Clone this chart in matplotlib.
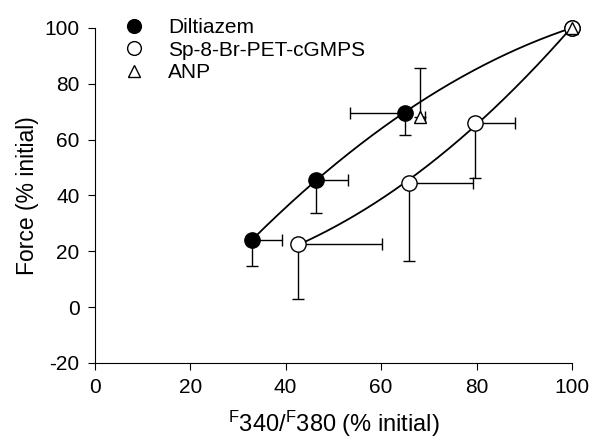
import numpy as np
import matplotlib.pyplot as plt

plt.rcParams['font.family'] = ['Liberation Sans', 'DejaVu Sans']
plt.rcParams['axes.unicode_minus'] = False
plt.rcParams['mathtext.fontset'] = 'custom'
plt.rcParams['mathtext.rm'] = 'Liberation Sans'

# Diltiazem
dil_x = [33.0, 46.3, 65.0, 100.0]
dil_y = [24.0, 45.6, 69.6, 100.0]
dil_xerr_lo = [0, 0, 11.5, 0]
dil_xerr_hi = [6.2, 6.7, 0, 0]
dil_yerr_lo = [9.2, 11.8, 7.9, 0]
dil_yerr_hi = [0, 0, 0, 0]

# Sp-8-Br-PET-cGMPS
sp_x = [42.6, 65.8, 79.7, 100.0]
sp_y = [22.5, 44.5, 66.0, 100.0]
sp_xerr_lo = [0, 0, 0, 0]
sp_xerr_hi = [17.6, 13.4, 8.3, 0]
sp_yerr_lo = [19.6, 27.9, 19.7, 0]
sp_yerr_hi = [0, 0, 0, 0]

# ANP
anp_x = [68.1, 100.0]
anp_y = [68.2, 100.0]
anp_xerr_lo = [0, 0]
anp_xerr_hi = [1.2, 0]
anp_yerr_lo = [0, 0]
anp_yerr_hi = [17.5, 0]

fig = plt.figure(figsize=(5.89, 4.41), dpi=100)
ax = fig.add_axes([0.161, 0.177, 0.81, 0.76])

# fitted curves
for xs, ys in [(dil_x, dil_y), (sp_x, sp_y)]:
    c = np.polyfit(xs, ys, 2)
    xx = np.linspace(xs[0], xs[-1], 200)
    ax.plot(xx, np.polyval(c, xx), color='black', lw=1.3, zorder=2, clip_on=False)

ebkw = dict(ecolor='black', elinewidth=1.0, capsize=4, capthick=1.0, ls='none', zorder=3)
ax.errorbar(dil_x, dil_y, xerr=[dil_xerr_lo, dil_xerr_hi], yerr=[dil_yerr_lo, dil_yerr_hi], **ebkw)
ax.errorbar(sp_x, sp_y, xerr=[sp_xerr_lo, sp_xerr_hi], yerr=[sp_yerr_lo, sp_yerr_hi], **ebkw)
ax.errorbar(anp_x, anp_y, xerr=[anp_xerr_lo, anp_xerr_hi], yerr=[anp_yerr_lo, anp_yerr_hi], **ebkw)

ax.plot(dil_x, dil_y, 'o', ms=11, mfc='black', mec='black', ls='none', zorder=4,
        clip_on=False, label='Diltiazem')
ax.plot(sp_x, sp_y, 'o', ms=11, mfc='white', mec='black', mew=1.0, ls='none', zorder=4,
        clip_on=False, label='Sp-8-Br-PET-cGMPS')
ax.plot(anp_x, anp_y, '^', ms=9, mfc='white', mec='black', mew=1.0, ls='none', zorder=5,
        clip_on=False, label='ANP')

ax.set_xlim(0, 100)
ax.set_ylim(-20, 100)
ax.set_xticks([0, 20, 40, 60, 80, 100])
ax.set_yticks([-20, 0, 20, 40, 60, 80, 100])
ax.spines['top'].set_visible(False)
ax.spines['right'].set_visible(False)
ax.tick_params(labelsize=15, length=5, direction='out', pad=6)
ax.set_xlabel(r'$\mathregular{^F340/^F380}$ (% initial)', fontsize=17, labelpad=8)
ax.set_ylabel('Force (% initial)', fontsize=16.5, labelpad=4)

ax.legend(loc='upper left', bbox_to_anchor=(0.032, 1.054), frameon=False, fontsize=15,
          handletextpad=0.9, labelspacing=0.17, borderaxespad=0, handlelength=1.5,
          markerscale=0.9)

fig.savefig('out.png', dpi=100)
